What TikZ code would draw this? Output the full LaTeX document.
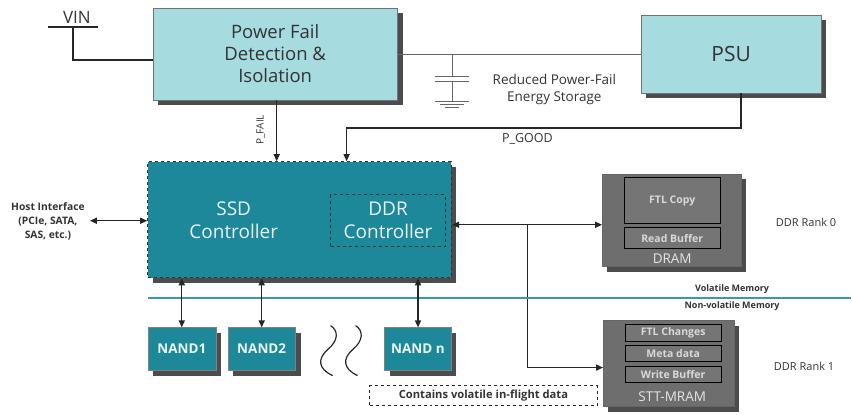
\documentclass[tikz,border=0pt]{standalone}
\usepackage{fontspec}
\setmainfont{Open Sans}
\usetikzlibrary{arrows.meta, positioning, calc, shadows}
\definecolor{pfdcolor}{RGB}{166,219,224}
\definecolor{ctrlcolor}{RGB}{30,136,155}
\definecolor{memcolor}{RGB}{110,110,110}
\definecolor{splitcolor}{RGB}{58,150,182}

\begin{document}
\begin{tikzpicture}[
    x=1pt, y=-1pt,
    >={Triangle[length=7pt, width=6pt]},
    wire/.style={line width=1.4pt, black!85},
    thinwire/.style={line width=0.8pt, black!60},
    pwrbox/.style={draw=black!55, fill=pfdcolor, text=black!80, align=center,
        font=\fontsize{18.5}{22}\selectfont,
        drop shadow={shadow xshift=5pt, shadow yshift=-5pt, fill=black, opacity=0.7}},
    ctrlbox/.style={draw=black!80, dashed, line width=1.2pt, fill=ctrlcolor,
        drop shadow={shadow xshift=5pt, shadow yshift=-5pt, fill=black, opacity=0.7}},
    ctrltext/.style={align=center, font=\fontsize{19}{23}\selectfont, text=white!90!ctrlcolor},
    nandbox/.style={draw=black!50, fill=ctrlcolor, text=white!92!ctrlcolor,
        minimum width=68pt, minimum height=43pt, font=\fontsize{13.5}{15}\selectfont\bfseries,
        drop shadow={shadow xshift=5pt, shadow yshift=-5pt, fill=black, opacity=0.7}},
    membox/.style={draw=black!60, fill=memcolor,
        drop shadow={shadow xshift=5pt, shadow yshift=-5pt, fill=black, opacity=0.7}},
    cellbox/.style={draw=black, line width=1pt, fill=memcolor!95!white,
        text=white!85!black, minimum width=96pt, font=\fontsize{10.5}{12}\selectfont\bfseries},
    memlabel/.style={text=white!90!black, font=\fontsize{13.5}{15}\selectfont},
    small/.style={font=\fontsize{11}{13}\selectfont, text=black!80},
]
    % power path
    \node[pwrbox, minimum width=245pt, minimum height=92pt] (pfd) at (275.5,54) {Power Fail\\Detection \&\\Isolation};
    \node[pwrbox, minimum width=180pt, minimum height=78pt, font=\fontsize{21}{24}\selectfont] (psu) at (732,54) {PSU};
    \node[font=\fontsize{17}{20}\selectfont, text=black!80] (vinlabel) at (77,17) {VIN};
    \coordinate (vin) at (73,27);
    \draw[wire] (48,27) -- (98,27);
    \draw[wire] (vin) |- ([yshift=-6pt]pfd.west);
    \draw[thinwire] (pfd.east) -- (psu.west);

    % energy storage
    \coordinate (cap) at (453,54);
    \draw[thinwire] (cap) -- ++(0,22);
    \draw[thinwire] (436,76) -- (470,76);
    \draw[thinwire] (436,81) -- (470,81);
    \draw[thinwire] (453,81) -- (453,102);
    \draw[thinwire] (436,102) -- (470,102);
    \draw[thinwire] (441,105) -- (465,105);
    \draw[thinwire] (446,108) -- (460,108);
    \node[small, font=\fontsize{13.5}{17}\selectfont, align=center] (storage) at (555,90) {Reduced Power-Fail\\Energy Storage};

    % controller
    \node[ctrlbox, minimum width=304pt, minimum height=116pt] (ctrl) at (300,220) {};
    \node[ctrltext] (ssd) at (234,220) {SSD\\Controller};
    \node[ctrltext, draw=black!80, dashed, line width=1.2pt, minimum width=115pt, minimum height=52pt,
        inner sep=1pt] (ddr) at (388.5,221) {DDR\\Controller};

    % power good / fail signals
    \coordinate (pg) at (347,128);
    \draw[wire, ->] ([xshift=10pt]psu.south) |- (pg) -- (pg |- ctrl.north);
    \node[small, font=\fontsize{12.5}{14}\selectfont] (pgood) at (528,139) {P\_GOOD};
    \draw[wire, ->] ([xshift=1.5pt]pfd.south) -- ([xshift=1.5pt]pfd.south |- ctrl.north);
    \node[small, rotate=90, font=\fontsize{10}{12}\selectfont] (pfail) at (261,130) {P\_FAIL};

    % host side
    \node[small, align=center, font=\fontsize{10.3}{14}\selectfont\bfseries] (host) at (48,222) {Host Interface\\(PCIe, SATA,\\SAS, etc.)};
    \draw[wire, <->] (90,221) -- (ctrl.west |- 0,221);

    % memories
    \node[membox, minimum width=139pt, minimum height=93pt] (dram) at (672.5,220.5) {};
    \node[cellbox, minimum height=46pt] (ftlcopy) at (673,201) {FTL Copy};
    \node[cellbox, minimum height=21pt] (readbuf) at (673,238.5) {Read Buffer};
    \node[memlabel] (dramlabel) at (673,259) {DRAM};
    \node[small] (rank0) at (807,223) {DDR Rank 0};

    \node[membox, minimum width=131pt, minimum height=86pt] (mram) at (669.5,364) {};
    \node[cellbox, minimum height=17pt] (ftlchg) at (674,333.5) {FTL Changes};
    \node[cellbox, minimum height=16pt] (meta) at (674,354) {Meta data};
    \node[cellbox, minimum height=16pt] (wbuf) at (674,375) {Write Buffer};
    \node[memlabel] (mramlabel) at (673,397) {STT-MRAM};
    \node[small] (rank1) at (805,367) {DDR Rank 1};

    \coordinate (bus) at (528,225);
    \draw[wire, <->] (ctrl.east |- bus) -- (dram.west |- bus);
    \draw[wire, ->] (bus) |- (mram.west |- 0,368);

    % volatile split
    \draw[splitcolor, line width=2pt] (148,298) -- (852,298);
    \node[small, font=\fontsize{9}{11}\selectfont\bfseries] (vol) at (733,290) {Volatile Memory};
    \node[small, font=\fontsize{9}{11}\selectfont\bfseries] (nonvol) at (733,307) {Non-volatile Memory};

    % flash
    \node[nandbox] (nand1) at (182,349.5) {NAND1};
    \node[nandbox] (nand2) at (262,349.5) {NAND2};
    \node[nandbox, minimum width=67pt] (nandn) at (418.5,349.5) {NAND n};
    \foreach \n in {nand1, nand2, nandn}
        \draw[wire, <->] (\n.north |- ctrl.south) -- (\n.north);
    \foreach \dx in {0, 25}
        \draw[line width=1.2pt, black!85] (331+\dx,326) .. controls (339+\dx,331) and (339+\dx,341) .. (328+\dx,350)
            .. controls (318+\dx,359) and (318+\dx,369) .. (333+\dx,376);

    \node[draw=black!85, dashed, line width=1.2pt, minimum width=228pt, minimum height=20pt, small,
        font=\fontsize{11.2}{13}\selectfont\bfseries] (inflight) at (484,396) {Contains volatile in-flight data};

    \useasboundingbox (0,0) rectangle (852,415);
\end{tikzpicture}
\end{document}
